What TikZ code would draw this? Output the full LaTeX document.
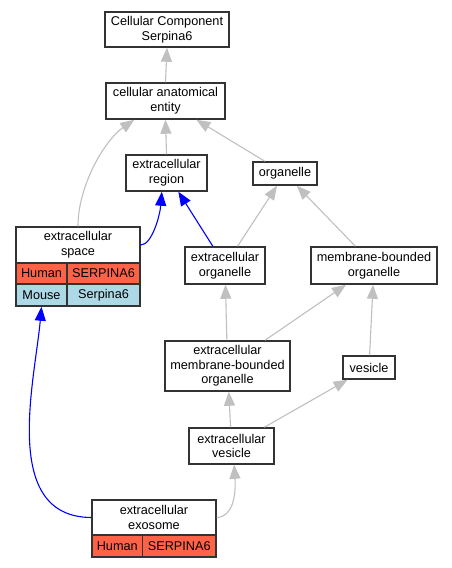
\documentclass[tikz,border=0pt]{standalone}
\usepackage{fontspec}
\setmainfont{Liberation Sans}
\usetikzlibrary{arrows.meta}
\definecolor{edgegray}{HTML}{C0C0C0}
\definecolor{human}{HTML}{FF6347}
\definecolor{mouse}{HTML}{ADD8E6}
\definecolor{border}{HTML}{333333}
\begin{document}
\begin{tikzpicture}[x=1pt,y=-1pt,
  box/.style={draw=border, line width=1.5pt, fill=white, align=center, inner sep=0pt,
    font=\fontsize{12.7}{14.6}\selectfont},
  humancell/.style={box, fill=human},
  mousecell/.style={box, fill=mouse},
  gedge/.style={draw=edgegray, line width=1.1pt, -{Triangle[length=14pt,width=11pt]}},
  bedge/.style={draw=blue, line width=1.1pt, -{Triangle[length=14pt,width=11pt]}}]
\fill[white] (0,0) rectangle (451,568);
\useasboundingbox (0,0) rectangle (451,568);

% nodes
\node[box, minimum width=124pt, minimum height=35pt] (cc) at (167,29.5) {Cellular Component\\Serpina6};
\node[box, minimum width=119pt, minimum height=36pt] (cae) at (165.5,101) {cellular anatomical\\entity};
\node[box, minimum width=81pt, minimum height=36pt] (er) at (166.5,173) {extracellular\\region};
\node[box, minimum width=64pt, minimum height=23pt] (org) at (285,173.5) {organelle};

\node[box, minimum width=124pt, minimum height=36pt] (es) at (78,245) {extracellular\\space};
\node[humancell, minimum width=51pt, minimum height=21pt] (eshl) at (41.5,273.5) {Human};
\node[humancell, minimum width=73pt, minimum height=21pt] (eshr) at (103.5,273.5) {SERPINA6};
\node[mousecell, minimum width=51pt, minimum height=22pt] (esml) at (41.5,295) {Mouse};
\node[mousecell, minimum width=73pt, minimum height=22pt] (esmr) at (103.5,295) {Serpina6};

\node[box, minimum width=80pt, minimum height=37pt] (eo) at (225,265.5) {extracellular\\organelle};
\node[box, minimum width=126pt, minimum height=37pt] (mbo) at (374,265.5) {membrane-bounded\\organelle};
\node[box, minimum width=125pt, minimum height=50pt] (embo) at (227.5,366) {extracellular\\membrane-bounded\\organelle};
\node[box, minimum width=52pt, minimum height=23pt] (ves) at (369,367.5) {vesicle};
\node[box, minimum width=85pt, minimum height=36pt] (ev) at (231.5,446) {extracellular\\vesicle};

\node[box, minimum width=124pt, minimum height=35pt] (ex) at (154,517.5) {extracellular\\exosome};
\node[humancell, minimum width=50.5pt, minimum height=22pt] (exhl) at (117.25,546) {Human};
\node[humancell, minimum width=73.5pt, minimum height=22pt] (exhr) at (179.25,546) {SERPINA6};

% edges
\draw[gedge] (cae.north) -- (cc.south);
\draw[gedge] (er.north) -- (cae.south);
\draw[gedge] (org) -- (cae);
\draw[gedge] (es.north) .. controls (78,185) and (105,140) .. (cae.211);
\draw[bedge] (es.east) .. controls (152,245) and (160,215) .. (er.256);
\draw[bedge] (eo) -- (er);
\draw[gedge] (eo) -- (org);
\draw[gedge] (mbo) -- (org);
\draw[gedge] (embo) -- (eo);
\draw[gedge] (embo) -- (mbo);
\draw[gedge] (ves) -- (mbo);
\draw[gedge] (ev) -- (embo);
\draw[gedge] (ev) -- (ves);
\draw[gedge] (ex.east) .. controls (233,517) and (236,495) .. (ev.278);
\draw[bedge] (ex.west) .. controls (0,517) and (35,380) .. (esml.south);
\end{tikzpicture}
\end{document}
